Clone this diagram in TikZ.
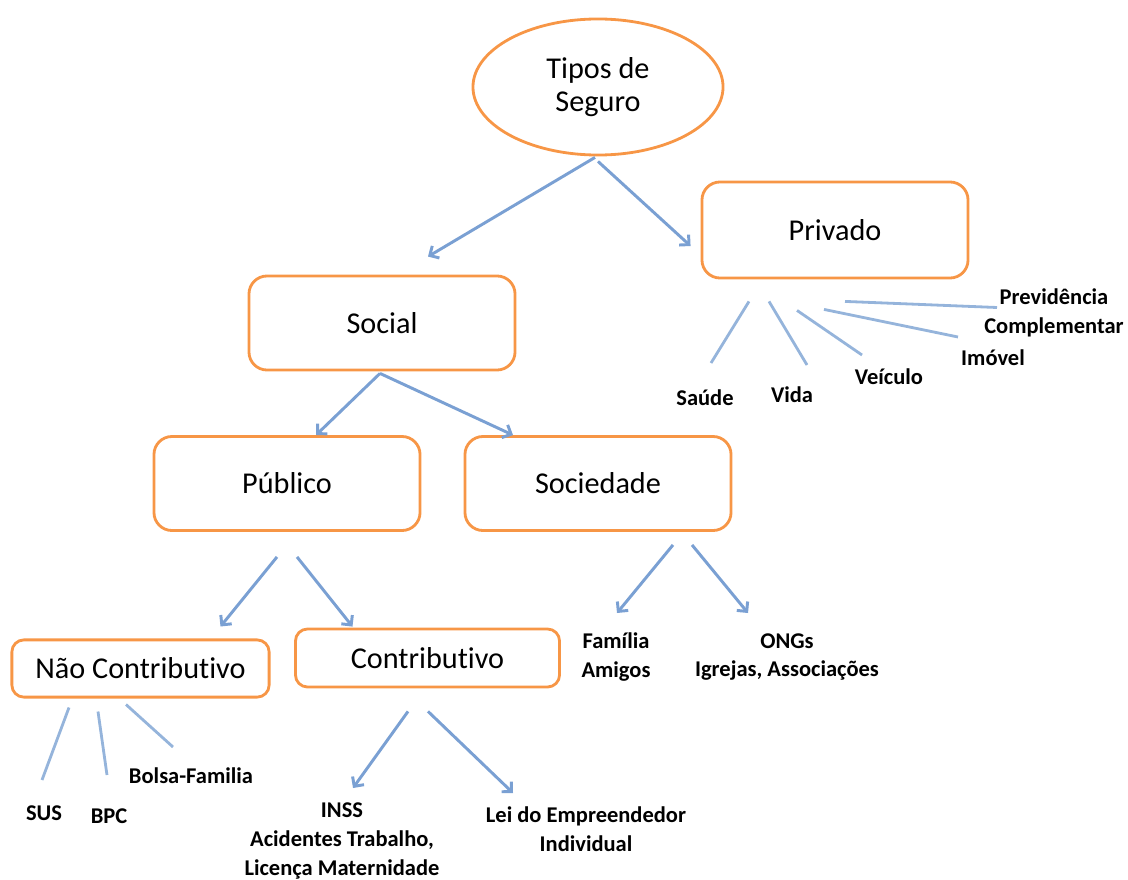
\documentclass[tikz,border=0pt]{standalone}
\usepackage{fontspec}
\setmainfont{Carlito}[Ligatures=CommonOff]
\usepackage{tikz}
\usetikzlibrary{arrows.meta,shapes.geometric,calc}
\definecolor{boxorange}{HTML}{F79646}
\definecolor{arrowblue}{HTML}{7AA0D3}
\definecolor{lineblue}{HTML}{95B4DB}

\begin{document}
\begin{tikzpicture}[x=0.025cm, y=-0.025cm]
    \tikzset{box/.style={rectangle, rounded corners=0.45cm, draw=boxorange, line width=2pt,
                         fill=white, minimum width=6.65cm, minimum height=2.35cm, inner sep=0pt,
                         font=\fontsize{21.5}{24}\selectfont},
             smallbox/.style={box, rounded corners=0.3cm, minimum height=1.43cm},
             oval/.style={ellipse, draw=boxorange, line width=2pt, minimum width=6.25cm,
                          minimum height=3.4cm, inner sep=0pt, align=center,
                          font=\fontsize{21.5}{24}\selectfont},
             leaf/.style={align=center, inner sep=0pt, font=\fontsize{16}{20.5}\selectfont\bfseries},
             seta/.style={draw=arrowblue, line width=2.1pt, -{Straight Barb[length=5pt,width=10pt]}},
             linha/.style={draw=lineblue, line width=2pt}}
    \useasboundingbox (0,0) rectangle (1128,879);
    % boxes
    \node[oval] (tipos) at (598,87) {Tipos de\\Seguro};
    \node[box, minimum width=6.65cm, minimum height=2.4cm] (privado) at (835,230) {Privado};
    \node[box] (social) at (382,323) {Social};
    \node[box] (publico) at (287,483.5) {Público};
    \node[box] (sociedade) at (598,483.5) {Sociedade};
    \node[smallbox, minimum width=6.43cm] (nao) at (140.5,668.5) {Não Contributivo};
    \node[smallbox, minimum width=6.6cm, minimum height=1.45cm] (contrib) at (427.5,658) {Contributivo};
    % leaves
    \node[leaf] (previdencia) at (1054,312.5) {Previdência\\Complementar};
    \node[leaf] (imovel) at (993,358) {Imóvel};
    \node[leaf] (veiculo) at (889,377) {Veículo};
    \node[leaf] (saude) at (705,398) {Saúde};
    \node[leaf] (vida) at (792,395) {Vida};
    \node[leaf] (familia) at (616,657) {Família\\Amigos};
    \node[leaf] (ongs) at (787,657) {ONGs\\Igrejas, Associações};
    \node[leaf] (sus) at (44,813) {SUS};
    \node[leaf] (bpc) at (109,816) {BPC};
    \node[leaf] (bolsa) at (191,776) {Bolsa-Familia};
    \node[leaf] (inss) at (342,841) {INSS\\Acidentes Trabalho,\\Licença Maternidade};
    \node[leaf] (lei) at (586,829) {Lei do Empreendedor\\Individual};
    % arrows
    \draw[seta] ($(tipos.south)+(-3,1)$) -- ($(social.north)+(46,-18)$);
    \draw[seta] ($(tipos.south)+(0,5)$) -- ($(privado.west)+(-10,16)$);
    \draw[seta] ($(social.south)+(-2,2)$) -- ($(publico.north)+(29,0)$);
    \draw[seta] ($(social.south)+(-2,2)$) -- ($(sociedade.north)+(-85,0)$);
    \draw[seta] ($(publico.south)+(-10,25)$) -- ($(nao.north)+(80,-12)$);
    \draw[seta] ($(publico.south)+(10,25)$) -- ($(contrib.north)+(-75,-1)$);
    \draw[seta] ($(sociedade.south)+(75,13)$) -- ($(familia.center)+(1,-44)$);
    \draw[seta] ($(sociedade.south)+(94,13)$) -- ($(ongs.center)+(-39,-44)$);
    \draw[seta] ($(contrib.south)+(-19.5,23)$) -- ($(inss.center)+(11,-53)$);
    \draw[seta] ($(contrib.south)+(0.5,23)$) -- ($(lei.center)+(-73,-36)$);
    % plain lines
    \draw[linha] ($(privado.south)+(-86,22)$) -- ($(saude.center)+(6,-35)$);
    \draw[linha] ($(privado.south)+(-66,22)$) -- ($(vida.center)+(15,-30)$);
    \draw[linha] ($(privado.south)+(-38,31)$) -- ($(veiculo.center)+(-27,-22)$);
    \draw[linha] ($(privado.south)+(-11,30)$) -- ($(imovel.center)+(-35,-21)$);
    \draw[linha] ($(privado.south)+(10,22)$) -- ($(previdencia.center)+(-57,-5)$);
    \draw[linha] ($(nao.south)+(-71.5,9)$) -- ($(sus.center)+(-2,-33)$);
    \draw[linha] ($(nao.south)+(-42.5,13)$) -- ($(bpc.center)+(-2,-41)$);
    \draw[linha] ($(nao.south)+(-14.5,6)$) -- ($(bolsa.center)+(-18,-29)$);
\end{tikzpicture}
\end{document}
